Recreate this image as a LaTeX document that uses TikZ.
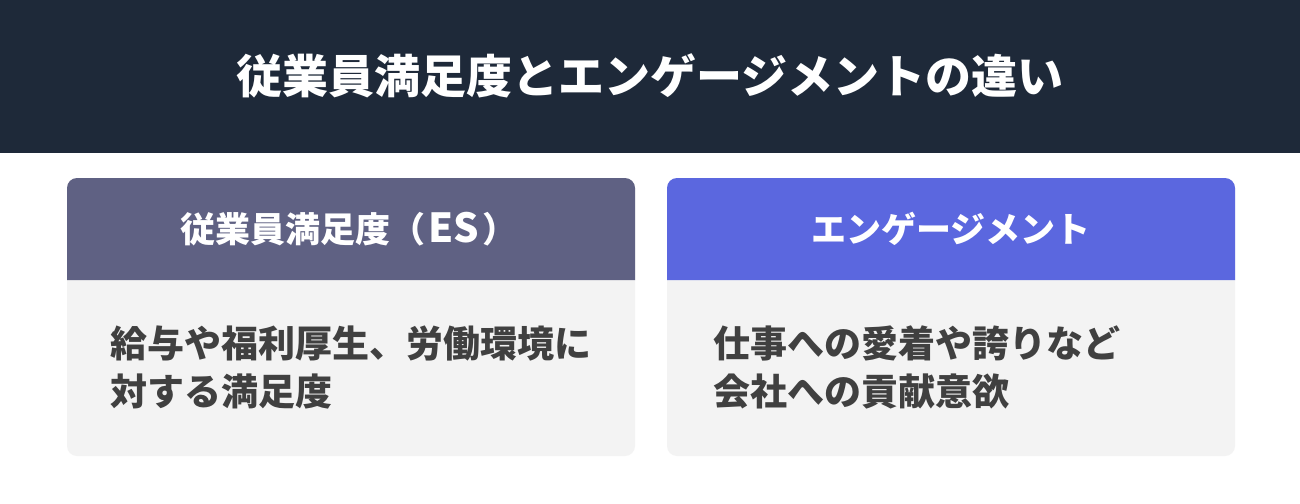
\documentclass[tikz,border=0pt]{standalone}
\usepackage{fontspec}
\newfontfamily\cjk{Noto Sans CJK JP}
\definecolor{bandcol}{HTML}{1E2939}
\definecolor{leftcol}{HTML}{5F6183}
\definecolor{rightcol}{HTML}{5B67DF}
\definecolor{bodycol}{HTML}{F3F3F3}
\definecolor{textcol}{HTML}{404040}
\tikzset{
  titletext/.style={text=white, font=\cjk\bfseries\fontsize{46}{54}\selectfont, inner sep=0pt},
  headtext/.style={text=white, font=\cjk\bfseries\fontsize{35}{42}\selectfont, inner sep=0pt},
  bodytext/.style={text=textcol, font=\cjk\bfseries\fontsize{37}{48}\selectfont, align=left, inner sep=0pt, anchor=west},
}
\begin{document}
\begin{tikzpicture}[x=1pt,y=-1pt]
\useasboundingbox (0,0) rectangle (1300,503);
\fill[white] (0,0) rectangle (1300,503);
\fill[bandcol] (0,0) rectangle (1300,153);
\node[titletext] (title) at (650,76) {従業員満足度とエンゲージメントの違い};
% left card
\fill[bodycol, rounded corners=10pt] (67,178) rectangle (635,456);
\fill[leftcol] (67,280) [rounded corners=10pt] -- (67,178) -- (635,178) [sharp corners] -- (635,280) -- cycle;
\node[headtext] (lhead) at (349,229) {従業員満足度（\kern3pt{\fontsize{40}{42}\selectfont ES}\kern3pt）};
\node[bodytext] (lbody) at (110,367) {給与や福利厚生、労働環境に\\対する満足度};
% right card
\fill[bodycol, rounded corners=10pt] (667,178) rectangle (1235,456);
\fill[rightcol] (667,280) [rounded corners=10pt] -- (667,178) -- (1235,178) [sharp corners] -- (1235,280) -- cycle;
\node[headtext] (rhead) at (951,229) {エンゲージメント};
\node[bodytext] (rbody) at (713,367) {仕事への愛着や誇りなど\\会社への貢献意欲};
\end{tikzpicture}
\end{document}
